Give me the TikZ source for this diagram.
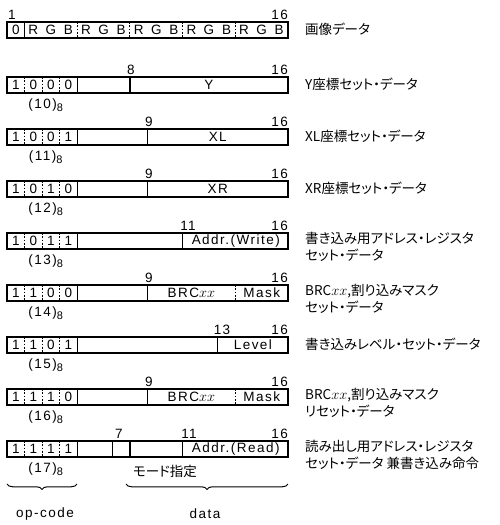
\documentclass[tikz,border=0pt]{standalone}
\usepackage{fontspec}
\setmainfont{Liberation Sans}[LetterSpace=11]
\newfontfamily\jp{Noto Sans CJK JP}[RawFeature=+palt]
\usetikzlibrary{decorations.pathreplacing}
\begin{document}
\begin{tikzpicture}[x=1pt,y=-1pt,
  font=\fontsize{13.5}{15}\selectfont,
  reg/.style={line width=1.3pt},
  sep/.style={line width=1pt, dash pattern=on 1.8pt off 1.5pt},
  bitno/.style={anchor=south, inner sep=0pt},
  bitend/.style={anchor=south east, inner sep=0pt},
  fld/.style={inner sep=0pt},
  oct/.style={anchor=north, inner sep=0pt},
  desc/.style={anchor=north west, inner sep=0pt, align=left, font=\jp\fontsize{13.5}{16.5}\selectfont},
  brc/.style={decorate, decoration={brace, mirror, amplitude=5.5pt}, line width=1pt},
]
\useasboundingbox (0,0) rectangle (500,525);
% ---- row 1
\draw[reg] (7,22) rectangle (288,38);
\draw[reg] (24.56,22) -- (24.56,38);
\foreach \x in {77.25,129.94,182.63,235.31} \draw[sep] (\x,22) -- (\x,38);
\node[fld] (c1) at (15.78,30) {0};
\foreach \n/\ch in {2/R,3/G,4/B,5/R,6/G,7/B,8/R,9/G,10/B,11/R,12/G,13/B,14/R,15/G,16/B}
  \node[fld] (c\n) at ({7+(\n-0.5)*17.5625},30) {\ch};
\node[bitno] (n1s) at (12,19.5) {1};
\node[bitend] (n1e) at (288,19.5) {16};
\node[desc] (d1) at (305,23) {画像データ};
% ---- rows 2-9 common
\foreach \t/\a/\b/\c/\d/\o [count=\i from 2] in
  {77/1/0/0/0/10, 129/1/0/0/1/11, 181/1/0/1/0/12, 233/1/0/1/1/13,
   285/1/1/0/0/14, 337/1/1/0/1/15, 389/1/1/1/0/16, 441/1/1/1/1/17}{
  \draw[reg] (7,\t) rectangle (288,\t+16);
  \draw[reg] (77.25,\t) -- (77.25,\t+16);
  \foreach \k in {24.56,42.13,59.69} \draw[sep] (\k,\t) -- (\k,\t+16);
  \node[fld] (r\i a) at (15.78,\t+8) {\a};
  \node[fld] (r\i b) at (33.34,\t+8) {\b};
  \node[fld] (r\i c) at (50.91,\t+8) {\c};
  \node[fld] (r\i d) at (68.47,\t+8) {\d};
  \node[oct] (oct\i) at (46,\t+22) {(\o)\textsubscript{\fontsize{11}{11}\selectfont 8}};
  \node[bitend] (e\i) at (288,\t-2.5) {16};
}
% row 2
\draw[reg] (129.94,77) -- (129.94,93);
\node[fld] (f2) at (209,85) {Y};
\node[bitno] (s2) at (131,74.5) {8};
\node[desc] (d2) at (305,78) {Y座標セット・データ};
% row 3
\draw[reg] (147.5,129) -- (147.5,145);
\node[fld] (f3) at (217.75,137) {XL};
\node[bitno] (s3) at (149,126.5) {9};
\node[desc] (d3) at (305,130) {XL座標セット・データ};
% row 4
\draw[reg] (147.5,181) -- (147.5,197);
\node[fld] (f4) at (217.75,189) {XR};
\node[bitno] (s4) at (149,178.5) {9};
\node[desc] (d4) at (305,182) {XR座標セット・データ};
% row 5
\draw[reg] (182.63,233) -- (182.63,249);
\node[fld] (f5) at (235.8,241) {Addr.(Write)};
\node[bitno] (s5) at (188,230.5) {11};
\node[desc] (d5) at (305,232) {書き込み用アドレス・レジスタ\\セット・データ};
% row 6
\draw[reg] (147.5,285) -- (147.5,301);
\draw[sep] (235.31,285) -- (235.31,301);
\node[fld] (f6a) at (191.4,293) {BRC$xx$};
\node[fld] (f6b) at (261.7,293) {Mask};
\node[bitno] (s6) at (149,282.5) {9};
\node[desc] (d6) at (305,284) {BRC$xx$,割り込みマスク\\セット・データ};
% row 7
\draw[reg] (217.75,337) -- (217.75,353);
\node[fld] (f7) at (252.9,345) {Level};
\node[bitno] (s7) at (222,334.5) {13};
\node[desc] (d7) at (305,338) {書き込みレベル・セット・データ};
% row 8
\draw[reg] (147.5,389) -- (147.5,405);
\draw[sep] (235.31,389) -- (235.31,405);
\node[fld] (f8a) at (191.4,397) {BRC$xx$};
\node[fld] (f8b) at (261.7,397) {Mask};
\node[bitno] (s8) at (149,386.5) {9};
\node[desc] (d8) at (305,388) {BRC$xx$,割り込みマスク\\リセット・データ};
% row 9
\foreach \x in {112.38,129.94,182.63} \draw[reg] (\x,441) -- (\x,457);
\node[fld] (f9) at (235.8,449) {Addr.(Read)};
\node[bitno] (s9a) at (119,438.5) {7};
\node[bitno] (s9b) at (189,438.5) {11};
\node[desc] (d9) at (305,440) {読み出し用アドレス・レジスタ\\セット・データ 兼書き込み命令};
\node[fld, font=\jp\fontsize{13.5}{15}\selectfont] (mode) at (165,471) {モード指定};
% braces
\coordinate (b1s) at (7,484);
\coordinate (b1e) at (77,484);
\coordinate (b2s) at (126,484);
\coordinate (b2e) at (288,484);
\draw[brc] (b1s) -- (b1e);
\draw[brc] (b2s) -- (b2e);
\node[fld] (opc) at (45,514) {op-code};
\node[fld] (dat) at (205,514) {data};
\end{tikzpicture}
\end{document}
